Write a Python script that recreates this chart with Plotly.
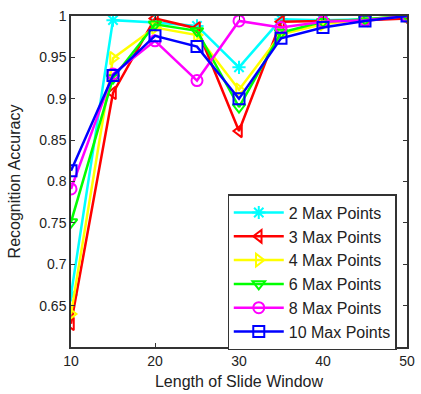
import plotly.graph_objects as go

window = [10, 15, 20, 25, 30, 35, 40, 45, 50]
names = ["2 Max Points", "3 Max Points", "4 Max Points", "6 Max Points", "8 Max Points", "10 Max Points"]
acc_2 = [0.663, 0.995, 0.992, 0.988, 0.938, 0.996, 0.995, 0.996, 1.0]
acc_3 = [0.628, 0.907, 0.997, 0.985, 0.861, 0.993, 0.994, 0.995, 0.997]
acc_4 = [0.640, 0.949, 0.986, 0.977, 0.911, 0.978, 0.990, 0.996, 1.0]
acc_6 = [0.751, 0.925, 0.990, 0.982, 0.890, 0.980, 0.993, 0.996, 1.0]
acc_8 = [0.791, 0.930, 0.970, 0.922, 0.994, 0.986, 0.993, 0.995, 1.0]
acc_10 = [0.813, 0.928, 0.976, 0.963, 0.900, 0.973, 0.986, 0.994, 1.0]

series = [acc_2, acc_3, acc_4, acc_6, acc_8, acc_10]
colors = ["#00FFFF", "#FF0000", "#FFFF00", "#00FF00", "#FF00FF", "#0000FF"]
symbols = ["asterisk-open", "triangle-left-open", "triangle-right-open",
           "triangle-down-open", "circle-open", "square-open"]

fig = go.Figure()
for name, vals, c, s in zip(names, series, colors, symbols):
    fig.add_trace(go.Scatter(
        x=window, y=vals, name=name, mode="lines+markers",
        line=dict(color=c, width=2.5),
        marker=dict(symbol=s, size=11, color=c, line=dict(color=c, width=2)),
    ))

axis_common = dict(
    showline=True, linecolor="#333333", linewidth=1.5, mirror="ticks",
    ticks="inside", ticklen=4, tickcolor="#333333", showgrid=False, zeroline=False,
    tickfont=dict(family="Liberation Sans, Arial", size=14, color="#222222"),
)
fig.update_layout(
    width=421, height=394,
    margin=dict(l=71, r=6, t=16, b=46),
    paper_bgcolor="white", plot_bgcolor="white",
    font=dict(family="Liberation Sans, Arial", size=13.5, color="#222222"),
    xaxis=dict(range=[10, 50], tickvals=[10, 20, 30, 40, 50],
               title=dict(text="Length of Slide Window", standoff=8), **axis_common),
    yaxis=dict(range=[0.6, 1.0], tickvals=[0.65, 0.7, 0.75, 0.8, 0.85, 0.9, 0.95, 1.0],
               ticktext=["0.65", "0.7", "0.75", "0.8", "0.85", "0.9", "0.95", "1"],
               title=dict(text="Recognition Accuracy", standoff=15), **axis_common),
    legend=dict(x=0.466, y=0.461, xanchor="left", yanchor="top",
                bgcolor="white", bordercolor="#333333", borderwidth=1.2,
                font=dict(size=16), tracegroupgap=0, itemwidth=50),
    showlegend=True,
)
fig.write_html("out.html")
